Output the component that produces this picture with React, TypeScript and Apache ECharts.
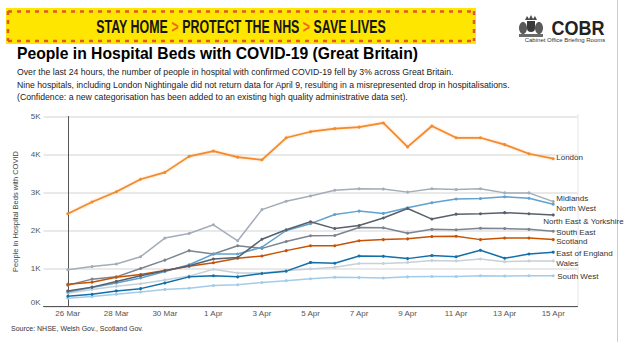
import React, { useEffect, useRef } from 'react';
import * as echarts from 'echarts';

// ---- data ----
const dates = ['26 Mar', '27 Mar', '28 Mar', '29 Mar', '30 Mar', '31 Mar', '1 Apr', '2 Apr', '3 Apr', '4 Apr', '5 Apr',
  '6 Apr', '7 Apr', '8 Apr', '9 Apr', '10 Apr', '11 Apr', '12 Apr', '13 Apr', '14 Apr', '15 Apr'];

const london = [2440, 2750, 3020, 3350, 3530, 3950, 4090, 3930, 3860, 4440, 4600, 4680, 4720, 4830, 4200, 4750, 4440, 4440, 4260, 4020, 3890];
const midlands = [970, 1050, 1120, 1310, 1800, 1920, 2150, 1730, 2550, 2770, 2910, 3060, 3100, 3090, 3010, 3100, 3080, 3100, 2990, 2990, 2760];
const northWest = [380, 500, 620, 750, 920, 1100, 1380, 1380, 1560, 2000, 2180, 2420, 2510, 2450, 2600, 2730, 2830, 2840, 2890, 2850, 2690];
const northEastYorkshire = [410, 510, 660, 810, 940, 1070, 1250, 1290, 1770, 2020, 2230, 2050, 2130, 2330, 2580, 2300, 2430, 2440, 2470, 2440, 2410];
const southEast = [560, 720, 780, 1000, 1220, 1470, 1380, 1600, 1530, 1710, 1860, 1870, 2080, 2070, 1930, 2030, 2020, 2060, 2050, 2030, 1980];
const scotland = [585, 640, 770, 840, 950, 1060, 1150, 1270, 1330, 1470, 1600, 1600, 1730, 1760, 1780, 1840, 1850, 1760, 1800, 1800, 1760];
const eastOfEngland = [270, 320, 410, 470, 620, 780, 810, 780, 870, 930, 1160, 1140, 1330, 1320, 1260, 1340, 1310, 1480, 1270, 1380, 1430];
const wales = [350, 450, 530, 600, 700, 800, 980, 880, 880, 950, 990, 1030, 1130, 1130, 1160, 1210, 1200, 1250, 1180, 1200, 1200];
const southWest = [220, 260, 320, 380, 450, 480, 550, 570, 630, 680, 730, 770, 760, 750, 780, 790, 790, 810, 800, 810, 810];

const yTicks = [0, 1000, 2000, 3000, 4000, 5000];

const seriesDefs = [
  { name: 'Wales', values: wales, color: '#c8d0d9', offset: [0, 3] },
  { name: 'South West', values: southWest, color: '#a3cce9', offset: [1, 1] },
  { name: 'Midlands', values: midlands, color: '#a3acb9', offset: [0, -3] },
  { name: 'South East', values: southEast, color: '#7b848f', offset: [0, 1] },
  { name: 'North West', values: northWest, color: '#5fa2ce', offset: [0, 4] },
  { name: 'Scotland', values: scotland, color: '#c85200', offset: [0, 2] },
  { name: 'East of England', values: eastOfEngland, color: '#1170aa', offset: [0, 1] },
  { name: 'North East & Yorkshire', values: northEastYorkshire, color: '#57606c', offset: [-13, 7] },
  { name: 'London', values: london, color: '#f28a2e', offset: [0, -1] },
];

const FONT = '"Liberation Sans", Arial, sans-serif';

export default function App() {
  const ref = useRef<HTMLDivElement>(null);

  useEffect(() => {
    const chart = echarts.init(ref.current!, null, { renderer: 'svg' });

    const series = seriesDefs.map((s) => ({
      type: 'line',
      name: s.name,
      data: s.values.map((v, i) => [i, v]),
      symbol: 'circle',
      symbolSize: 3,
      showSymbol: true,
      lineStyle: s.name === 'London'
        ? { color: s.color, width: 1.7, shadowBlur: 2, shadowColor: 'rgba(250,150,60,0.45)' }
        : { color: s.color, width: 1.5 },
      itemStyle: { color: s.color },
      emphasis: { disabled: true },
      endLabel: {
        show: true,
        formatter: () => s.name,
        color: '#333',
        fontSize: 8,
        fontFamily: FONT,
        distance: 3,
        offset: s.offset,
      },
    }));

    const graphic: any[] = [
      // banner
      { type: 'rect', shape: { x: 6, y: 8, width: 470, height: 36 }, style: { fill: '#ffe600' }, z: 1 },
      { type: 'line', shape: { x1: 8, y1: 11.5, x2: 474, y2: 11.5 }, style: { stroke: '#e2562a', lineWidth: 2.5, lineDash: [4, 5] }, z: 2 },
      { type: 'line', shape: { x1: 8, y1: 41, x2: 474, y2: 41 }, style: { stroke: '#e2562a', lineWidth: 2.5, lineDash: [4, 5] }, z: 2 },
      { type: 'line', shape: { x1: 8, y1: 11, x2: 8, y2: 41 }, style: { stroke: '#e2562a', lineWidth: 2.5, lineDash: [4, 5] }, z: 2 },
      { type: 'line', shape: { x1: 474, y1: 11, x2: 474, y2: 41 }, style: { stroke: '#e2562a', lineWidth: 2.5, lineDash: [4, 5] }, z: 2 },
      {
        type: 'text', x: 241, y: 27, scaleX: 0.69, z: 3,
        style: {
          text: 'STAY HOME {o|>} PROTECT THE NHS {o|>} SAVE LIVES',
          fill: '#151515', fontSize: 18, fontWeight: 'bold', fontFamily: FONT,
          align: 'center', verticalAlign: 'middle', textAlign: 'center', textVerticalAlign: 'middle',
          rich: { o: { fill: '#ee6a1e', fontSize: 18, fontWeight: 'bold', fontFamily: FONT } },
        },
      },
      // crest
      { type: 'polygon', shape: { points: [[525, 20], [527, 16], [529, 19], [531, 15], [533, 19], [535, 16], [537, 20]] }, style: { fill: '#4a4a4a' } },
      { type: 'ellipse', shape: { cx: 523, cy: 28, rx: 4, ry: 6 }, style: { fill: '#5a5a5a' } },
      { type: 'ellipse', shape: { cx: 539, cy: 28, rx: 4, ry: 6 }, style: { fill: '#5a5a5a' } },
      { type: 'rect', shape: { x: 527, y: 21, width: 8, height: 11, r: [0, 0, 4, 4] }, style: { fill: '#3a3a3a' } },
      { type: 'rect', shape: { x: 519, y: 34, width: 24, height: 3 }, style: { fill: '#6a6a6a' } },
      {
        type: 'text', x: 578, y: 28, scaleX: 0.9,
        style: { text: 'COBR', fill: '#222', fontSize: 20, fontWeight: 'bold', fontFamily: FONT,
          align: 'center', verticalAlign: 'middle', textAlign: 'center', textVerticalAlign: 'middle' },
      },
      {
        type: 'text', x: 565, y: 40,
        style: { text: 'Cabinet Office Briefing Rooms', fill: '#333', fontSize: 6, fontFamily: FONT,
          align: 'center', verticalAlign: 'middle', textAlign: 'center', textVerticalAlign: 'middle' },
      },
      // title & subtitle
      {
        type: 'text', x: 17, y: 53,
        style: { text: 'People in Hospital Beds with COVID-19 (Great Britain)', fill: '#000', fontSize: 15.7, fontWeight: 'bold', fontFamily: FONT,
          align: 'left', verticalAlign: 'middle', textAlign: 'left', textVerticalAlign: 'middle' },
      },
      ...[
        'Over the last 24 hours, the number of people in hospital with confirmed COVID-19 fell by 3% across Great Britain.',
        'Nine hospitals, including London Nightingale did not return data for April 9, resulting in a misrepresented drop in hospitalisations.',
        '(Confidence: a new categorisation has been added to an existing high quality administrative data set).',
      ].map((t, i) => ({
        type: 'text', x: 17, y: 72 + i * 12.5,
        style: { text: t, fill: '#222', fontSize: 8.7, fontFamily: FONT,
          align: 'left', verticalAlign: 'middle', textAlign: 'left', textVerticalAlign: 'middle' },
      })),
      // source
      {
        type: 'text', x: 11, y: 328,
        style: { text: 'Source: NHSE, Welsh Gov., Scotland Gov.', fill: '#333', fontSize: 7, fontFamily: FONT,
          align: 'left', verticalAlign: 'middle', textAlign: 'left', textVerticalAlign: 'middle' },
      },
      // frame lines
      { type: 'line', shape: { x1: 578, y1: 114, x2: 578, y2: 306 }, style: { stroke: '#e6e6e6', lineWidth: 1 } },
      { type: 'line', shape: { x1: 617.5, y1: 0, x2: 617.5, y2: 342 }, style: { stroke: '#cfcfcf', lineWidth: 1 } },
    ];

    chart.setOption({
      animation: false,
      backgroundColor: '#ffffff',
      textStyle: { fontFamily: FONT },
      grid: { left: 43.5, right: 46.5, top: 116.5, bottom: 35.5, containLabel: false },
      xAxis: {
        type: 'value',
        min: -1,
        max: 21,
        interval: 1,
        axisLine: { show: true, onZero: false, lineStyle: { color: '#555', width: 1 } },
        axisTick: { show: false },
        splitLine: { show: false },
        axisLabel: {
          fontSize: 8,
          color: '#555',
          margin: 3,
          hideOverlap: false,
          formatter: (v: number) => (v >= 0 && v < dates.length && v % 2 === 0 ? dates[v] : ''),
        },
      },
      yAxis: {
        type: 'value',
        min: yTicks[0],
        max: yTicks[yTicks.length - 1],
        interval: 1000,
        name: 'People in Hospital Beds with COVID',
        nameLocation: 'middle',
        nameGap: 19,
        nameTextStyle: { fontSize: 7.5, color: '#444', fontFamily: FONT },
        axisLine: { show: true, lineStyle: { color: '#555', width: 1 } },
        axisTick: { show: false },
        splitLine: { show: true, lineStyle: { color: '#e2e2e2', width: 1.5 } },
        axisLabel: {
          fontSize: 8,
          color: '#555',
          margin: 3,
          formatter: (v: number) => (v === 0 ? '{z|0K}' : v / 1000 + 'K'),
          rich: { z: { fontSize: 8, color: '#555', padding: [0, 0, 8, 0] } },
        },
      },
      series,
      graphic,
    });

    return () => chart.dispose();
  }, []);

  return <div ref={ref} style={{ position: 'fixed', left: 0, top: 0, width: 624, height: 342 }} />;
}
